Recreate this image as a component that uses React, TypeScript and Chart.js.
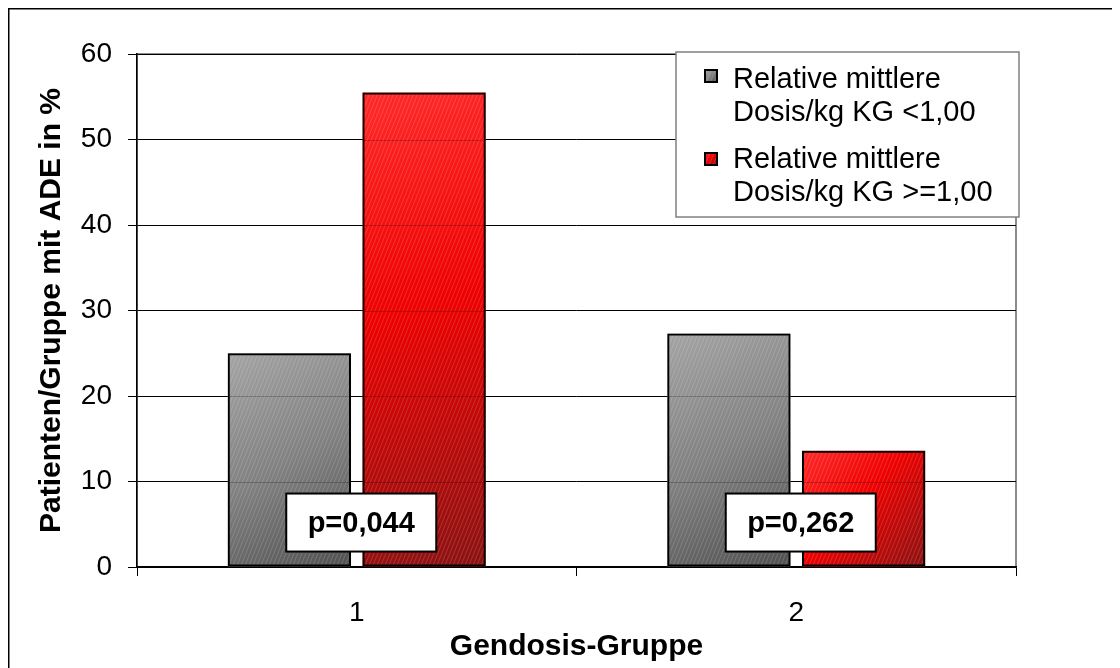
import React, { useEffect, useRef } from 'react';
import { Chart, registerables } from 'chart.js';

Chart.register(...registerables);

// ---- data ----
const groups = ['1', '2'];
const lowDoseShare = [25.0, 27.3];   // relative mittlere Dosis/kg KG < 1,00
const highDoseShare = [55.5, 13.6];  // relative mittlere Dosis/kg KG >= 1,00
const pValueLabels = ['p=0,044', 'p=0,262'];
const pLabelLevel = 5.2;
const legendLabels = [
  ['Relative mittlere', 'Dosis/kg KG <1,00'],
  ['Relative mittlere', 'Dosis/kg KG >=1,00'],
];
const yMin = 0;
const yMax = 60;
const yStep = 10;
const yTitle = 'Patienten/Gruppe mit ADE in %';
const xTitle = 'Gendosis-Gruppe';

// ---- styling ----
const FONT = "'Liberation Sans', Arial, Helvetica, sans-serif";
const GRAY_STOPS: [number, string][] = [[0, '#a4a4a4'], [0.5, '#818181'], [1, '#505050']];
const RED_STOPS: [number, string][] = [[0, '#ff2a2a'], [0.45, '#ee0000'], [1, '#8a1212']];

let hatchCache: CanvasPattern | null = null;
function getHatch(ctx: CanvasRenderingContext2D): CanvasPattern | null {
  if (hatchCache) return hatchCache;
  const c = document.createElement('canvas');
  c.width = 4;
  c.height = 10;
  const g = c.getContext('2d')!;
  g.strokeStyle = 'rgba(255,255,255,0.16)';
  g.lineWidth = 1;
  for (const dx of [-4, 0, 4]) {
    g.beginPath();
    g.moveTo(dx, 10);
    g.lineTo(dx + 4, 0);
    g.stroke();
  }
  hatchCache = ctx.createPattern(c, 'repeat');
  return hatchCache;
}

function paintFill(
  ctx: CanvasRenderingContext2D,
  l: number, t: number, r: number, b: number,
  stops: [number, string][],
  hatch: CanvasPattern | null,
) {
  ctx.save();
  const grad = ctx.createLinearGradient(l, t, r, b);
  stops.forEach(([o, c]) => grad.addColorStop(o, c));
  ctx.fillStyle = grad;
  ctx.fillRect(l, t, r - l, b - t);
  if (hatch) {
    ctx.fillStyle = hatch;
    ctx.fillRect(l, t, r - l, b - t);
  }
  ctx.restore();
}

const decorPlugin = {
  id: 'decor',
  beforeDraw(chart: any) {
    const { ctx, chartArea: a, width, height } = chart;
    ctx.save();
    ctx.fillStyle = '#fff';
    ctx.fillRect(0, 0, width, height);
    // outer frame
    ctx.strokeStyle = '#000';
    ctx.lineWidth = 1.5;
    ctx.beginPath();
    ctx.moveTo(0.75, height + 2);
    ctx.lineTo(0.75, 0.75);
    ctx.lineTo(width + 2, 0.75);
    ctx.stroke();
    // plot area frame
    ctx.strokeStyle = '#8c8c8c';
    ctx.lineWidth = 2;
    ctx.strokeRect(a.left, a.top, a.right - a.left, a.bottom - a.top);
    ctx.restore();
  },
  beforeDatasetsDraw(chart: any) {
    const ctx: CanvasRenderingContext2D = chart.ctx;
    const yScale = chart.scales.y;
    const hatch = getHatch(ctx);
    chart.data.datasets.forEach((_ds: any, di: number) => {
      const meta = chart.getDatasetMeta(di);
      const stops = di === 0 ? GRAY_STOPS : RED_STOPS;
      meta.data.forEach((el: any) => {
        const { x, y, base, width } = el.getProps(['x', 'y', 'base', 'width'], true);
        const l = x - width / 2;
        const r = x + width / 2;
        const t = Math.min(y, base);
        const b = Math.max(y, base);
        paintFill(ctx, l, t, r, b, stops, hatch);
        // gridlines faintly showing through the fill
        ctx.save();
        ctx.beginPath();
        ctx.rect(l, t, r - l, b - t);
        ctx.clip();
        ctx.strokeStyle = 'rgba(0,0,0,0.22)';
        ctx.lineWidth = 1;
        yScale.ticks.forEach((tk: any) => {
          const py = Math.round(yScale.getPixelForValue(tk.value)) + 0.5;
          ctx.beginPath();
          ctx.moveTo(l, py);
          ctx.lineTo(r, py);
          ctx.stroke();
        });
        ctx.restore();
      });
    });
  },
  afterDraw(chart: any) {
    const ctx: CanvasRenderingContext2D = chart.ctx;
    const a = chart.chartArea;
    const xScale = chart.scales.x;
    const yScale = chart.scales.y;
    const hatch = getHatch(ctx);

    // p-value boxes
    ctx.save();
    pValueLabels.forEach((txt, i) => {
      const cx = xScale.getPixelForValue(i) + 4.5;
      const cy = yScale.getPixelForValue(pLabelLevel);
      const w = 150;
      const h = 58;
      ctx.fillStyle = '#fff';
      ctx.fillRect(cx - w / 2, cy - h / 2, w, h);
      ctx.strokeStyle = '#000';
      ctx.lineWidth = 2;
      ctx.strokeRect(cx - w / 2, cy - h / 2, w, h);
      ctx.fillStyle = '#000';
      ctx.font = `bold 29px ${FONT}`;
      ctx.textAlign = 'center';
      ctx.textBaseline = 'middle';
      ctx.fillText(txt, cx, cy + 1);
    });
    ctx.restore();

    // legend box, anchored to the top-right corner of the plot area
    ctx.save();
    const w = 343;
    const L = { x: a.right + 3 - w, y: a.top - 2, w, h: 165 };
    ctx.fillStyle = '#fff';
    ctx.fillRect(L.x, L.y, L.w, L.h);
    ctx.strokeStyle = '#808080';
    ctx.lineWidth = 1.5;
    ctx.strokeRect(L.x, L.y, L.w, L.h);
    legendLabels.forEach((lines, i) => {
      const stops = i === 0 ? GRAY_STOPS : RED_STOPS;
      const sy = L.y + 18 + i * 83;
      paintFill(ctx, L.x + 29, sy, L.x + 41, sy + 12, stops, hatch);
      ctx.strokeStyle = '#000';
      ctx.lineWidth = 2;
      ctx.strokeRect(L.x + 29, sy, 12, 12);
      ctx.fillStyle = '#000';
      ctx.font = `29px ${FONT}`;
      ctx.textAlign = 'left';
      ctx.textBaseline = 'alphabetic';
      ctx.fillText(lines[0], L.x + 57, L.y + 36 + i * 80);
      ctx.fillText(lines[1], L.x + 57, L.y + 69 + i * 80);
    });
    ctx.restore();
  },
};

export default function App() {
  const ref = useRef<HTMLCanvasElement>(null);

  useEffect(() => {
    const html = document.documentElement;
    const prevHtml = html.style.overflow;
    const prevBody = document.body.style.overflow;
    html.style.overflow = 'hidden';
    document.body.style.overflow = 'hidden';

    const canvas = ref.current!;
    const chart = new Chart(canvas, {
      type: 'bar',
      data: {
        labels: groups,
        datasets: [
          {
            label: `${legendLabels[0][0]} ${legendLabels[0][1]}`,
            data: lowDoseShare,
            backgroundColor: 'rgba(0,0,0,0)',
            borderColor: '#000',
            borderWidth: 2,
            borderSkipped: false,
            categoryPercentage: 0.613,
            barPercentage: 0.915,
          },
          {
            label: `${legendLabels[1][0]} ${legendLabels[1][1]}`,
            data: highDoseShare,
            backgroundColor: 'rgba(0,0,0,0)',
            borderColor: '#000',
            borderWidth: 2,
            borderSkipped: false,
            categoryPercentage: 0.613,
            barPercentage: 0.915,
          },
        ],
      },
      options: {
        animation: false,
        responsive: false,
        devicePixelRatio: 1,
        layout: { padding: { left: 0, right: 104, top: 46, bottom: 0 } },
        plugins: {
          legend: { display: false },
          tooltip: { enabled: false },
        },
        scales: {
          x: {
            type: 'category',
            offset: true,
            grid: {
              display: true,
              drawOnChartArea: false,
              drawTicks: true,
              tickLength: 9,
              offset: true,
              color: '#000',
              lineWidth: 1,
            },
            border: { display: true, color: '#000', width: 1.5 },
            ticks: {
              color: '#000',
              font: { family: FONT, size: 28 },
              padding: 20,
              maxRotation: 0,
            },
            title: {
              display: true,
              text: xTitle,
              color: '#000',
              font: { family: FONT, size: 30, weight: 'bold' },
              padding: { top: 0, bottom: 3 },
            },
            afterFit(scale: any) {
              scale.height = 101;
            },
          },
          y: {
            min: yMin,
            max: yMax,
            grid: {
              color: '#000',
              lineWidth: 1,
              drawTicks: true,
              tickLength: 9,
            },
            border: { display: true, color: '#000', width: 1.5 },
            ticks: {
              stepSize: yStep,
              color: '#000',
              font: { family: FONT, size: 28 },
              padding: 16,
            },
            title: {
              display: true,
              text: yTitle,
              color: '#000',
              font: { family: FONT, size: 30, weight: 'bold' },
              padding: { top: 26, bottom: 0 },
            },
            afterFit(scale: any) {
              scale.width = 129;
            },
          },
        },
      },
      plugins: [decorPlugin],
    } as any);

    return () => {
      chart.destroy();
      html.style.overflow = prevHtml;
      document.body.style.overflow = prevBody;
    };
  }, []);

  return <canvas ref={ref} width={1112} height={660} style={{ display: 'block' }} />;
}
